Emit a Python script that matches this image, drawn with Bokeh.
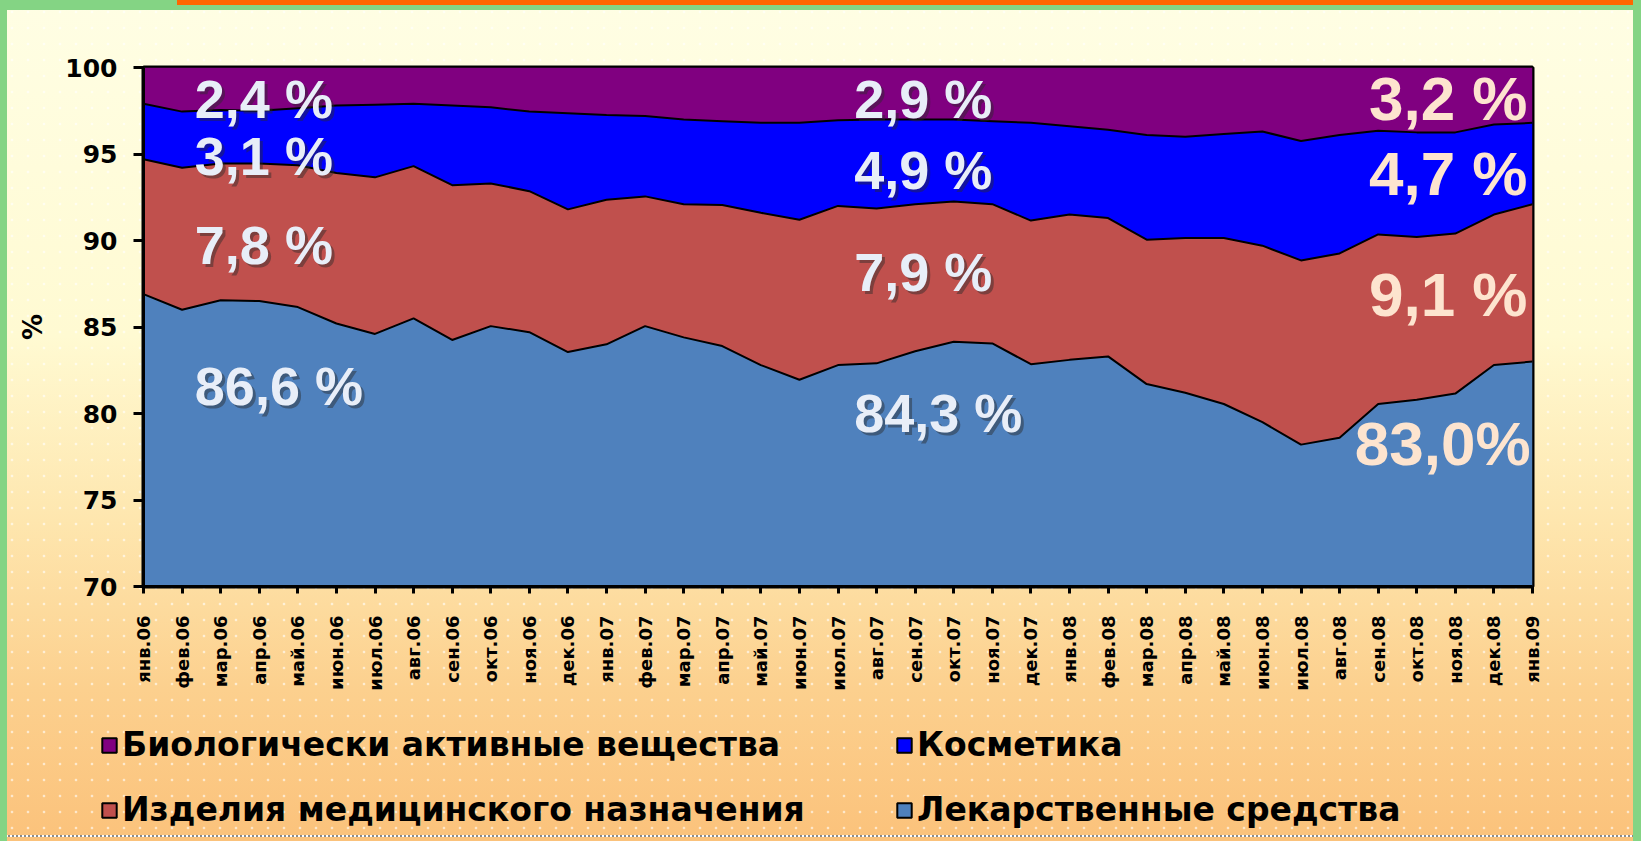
import math
from bokeh.plotting import figure
from bokeh.layouts import column
from bokeh.models import ColumnDataSource, FixedTicker, Range1d, Legend, LegendItem
from bokeh.embed import file_html
from bokeh.resources import INLINE
from bokeh.core.properties import value

# ---------------- data ----------------
months = ["янв.06", "фев.06", "мар.06", "апр.06", "май.06", "июн.06", "июл.06", "авг.06",
          "сен.06", "окт.06", "ноя.06", "дек.06", "янв.07", "фев.07", "мар.07", "апр.07",
          "май.07", "июн.07", "июл.07", "авг.07", "сен.07", "окт.07", "ноя.07", "дек.07",
          "янв.08", "фев.08", "мар.08", "апр.08", "май.08", "июн.08", "июл.08", "авг.08",
          "сен.08", "окт.08", "ноя.08", "дек.08", "янв.09"]

# shares, % (Лекарственные средства)
drugs = [86.9, 86.0, 86.55, 86.5, 86.15, 85.2, 84.6, 85.5, 84.25, 85.05, 84.7, 83.55,
         84.0, 85.05, 84.4, 83.9, 82.8, 81.95, 82.8, 82.9, 83.6, 84.15, 84.05, 82.85,
         83.1, 83.3, 81.7, 81.2, 80.55, 79.5, 78.2, 78.6, 80.55, 80.8, 81.15, 82.8, 83.0]
# Изделия медицинского назначения
med = [7.8, 8.2, 7.9, 7.95, 8.2, 8.7, 9.05, 8.8, 8.95, 8.25, 8.15, 8.25,
       8.35, 7.5, 7.7, 8.15, 8.8, 9.25, 9.2, 8.95, 8.5, 8.1, 8.05, 8.3,
       8.4, 8.0, 8.35, 8.95, 9.6, 10.2, 10.65, 10.65, 9.8, 9.4, 9.25, 8.7, 9.1]
# Косметика
cosm = [3.2, 3.25, 3.1, 3.05, 3.3, 3.9, 4.2, 3.6, 4.6, 4.4, 4.6, 5.55,
        4.9, 4.65, 4.9, 4.85, 5.2, 5.6, 4.95, 5.15, 4.9, 4.75, 4.8, 5.65,
        5.1, 5.1, 6.05, 5.85, 6.0, 6.6, 6.9, 6.85, 6.0, 6.05, 5.85, 5.2, 4.7]
# Биологически активные вещества
bio = [2.1, 2.55, 2.45, 2.5, 2.35, 2.2, 2.15, 2.1, 2.2, 2.3, 2.55, 2.65,
       2.75, 2.8, 3.0, 3.1, 3.2, 3.2, 3.05, 3.0, 3.0, 3.0, 3.1, 3.2,
       3.4, 3.6, 3.9, 4.0, 3.85, 3.7, 4.25, 3.9, 3.65, 3.75, 3.75, 3.3, 3.2]

series_names = ["Лекарственные средства", "Изделия медицинского назначения",
                "Косметика", "Биологически активные вещества"]
series_colors = ["#4f81bd", "#c0504d", "#0000ff", "#800080"]

# value annotations shown on the chart
left_labels = ["2,4 %", "3,1 %", "7,8 %", "86,6 %"]
mid_labels = ["2,9 %", "4,9 %", "7,9 %", "84,3 %"]
right_labels = ["3,2 %", "4,7 %", "9,1 %", "83,0%"]

# ---------------- chart figure ----------------
x = list(range(len(months)))
src = ColumnDataSource(dict(x=x, drugs=drugs, med=med, cosm=cosm, bio=bio))
keys = ["drugs", "med", "cosm", "bio"]

p = figure(width=1641, height=700, x_range=Range1d(0, len(months) - 1), y_range=Range1d(70, 100),
           output_backend="svg", toolbar_location=None,
           min_border_left=143, min_border_right=109, min_border_top=67, min_border_bottom=114)
p.border_fill_color = None
p.background_fill_color = None
p.outline_line_color = "black"
p.outline_line_width = 4
p.grid.visible = False

p.varea_stack(stackers=keys, x="x", color=series_colors, source=src)
p.vline_stack(stackers=keys[:3], x="x", source=src, color="black", line_width=2)

# axes
p.xaxis.ticker = FixedTicker(ticks=x)
p.xaxis.major_label_overrides = {i: m for i, m in enumerate(months)}
p.xaxis.major_label_orientation = math.pi / 2
p.xaxis.major_label_text_font = "DejaVu Sans"
p.xaxis.major_label_text_font_style = "bold"
p.xaxis.major_label_text_font_size = "18px"
p.xaxis.major_label_text_color = "black"
p.xaxis.major_label_standoff = 22
p.xaxis.minor_tick_line_color = None
p.xaxis.major_tick_out = 7
p.xaxis.major_tick_in = 0
p.xaxis.major_tick_line_width = 3
p.xaxis.axis_line_width = 3

p.yaxis.ticker = FixedTicker(ticks=[70, 75, 80, 85, 90, 95, 100])
p.yaxis.major_label_text_font = "DejaVu Sans"
p.yaxis.major_label_text_font_style = "bold"
p.yaxis.major_label_text_font_size = "25px"
p.yaxis.major_label_text_color = "black"
p.yaxis.major_label_standoff = 16
p.yaxis.minor_tick_line_color = None
p.yaxis.major_tick_out = 10
p.yaxis.major_tick_in = 0
p.yaxis.major_tick_line_width = 3
p.yaxis.axis_line_width = 3
p.yaxis.axis_label = "%"
p.yaxis.axis_label_text_font = "DejaVu Sans"
p.yaxis.axis_label_text_font_style = "bold"
p.yaxis.axis_label_text_font_size = "26px"
p.yaxis.axis_label_text_color = "black"
p.yaxis.axis_label_standoff = 14

# value labels
lsrc = ColumnDataSource(dict(
    text=left_labels + mid_labels,
    x=[1.33] * 4 + [18.42] * 4,
    y=[98.2, 94.9, 89.75, 81.6, 98.2, 94.1, 88.2, 80.05]))
for dx, col, alpha in [(3, "#2a2a2a", 0.45), (0, "#e8eef8", 1.0)]:
    p.text(x="x", y="y", text="text", source=lsrc, x_offset=dx, y_offset=dx,
           text_font=value("Liberation Sans"), text_font_style="bold", text_font_size="54px",
           text_color=col, text_alpha=alpha, text_baseline="alphabetic", text_align="left")

rsrc = ColumnDataSource(dict(text=right_labels, x=[35.87, 35.87, 35.87, 35.95],
                             y=[98.2, 93.85, 86.9, 78.25]))
p.text(x="x", y="y", text="text", source=rsrc,
       text_font=value("Liberation Sans"), text_font_style="bold", text_font_size="62px",
       text_color="#fde4cf", text_baseline="alphabetic", text_align="right")

# ---------------- legend figure ----------------
lg_fig = figure(width=1641, height=141, x_range=Range1d(0, 1), y_range=Range1d(0, 1),
                output_backend="svg", toolbar_location=None, x_axis_type=None, y_axis_type=None,
                min_border=0, min_border_left=0, min_border_right=0,
                min_border_top=0, min_border_bottom=0)
lg_fig.frame_align = False
p.frame_align = False
lg_fig.border_fill_color = None
lg_fig.background_fill_color = None
lg_fig.outline_line_color = None
lg_fig.grid.visible = False

swatches = {}
for name, col in zip(series_names, series_colors):
    # off-range glyphs, used only as legend keys
    swatches[name] = lg_fig.quad(left=[-10], right=[-9], top=[-9], bottom=[-10], fill_color=col,
                                 line_color="black", line_width=2)


def make_legend(names, loc):
    lg = Legend(items=[LegendItem(label=n, renderers=[swatches[n]]) for n in names],
                location=loc, orientation="vertical")
    lg.label_text_font = "DejaVu Sans"
    lg.label_text_font_style = "bold"
    lg.label_text_font_size = "33px"
    lg.label_text_color = "black"
    lg.glyph_width = 18
    lg.glyph_height = 18
    lg.label_height = 36
    lg.label_standoff = 4
    lg.spacing = 26
    lg.padding = 0
    lg.margin = 0
    lg.border_line_color = None
    lg.background_fill_alpha = 0
    return lg


lg_fig.add_layout(make_legend(["Биологически активные вещества",
                               "Изделия медицинского назначения"], (100, 12)), "center")
lg_fig.add_layout(make_legend(["Косметика", "Лекарственные средства"], (895, 12)), "center")

green = "#84d484"
layout = column(p, lg_fig, spacing=0)
layout.styles = {
    "background":
        "linear-gradient(#ff6600,#ff6600) no-repeat 177px 0 / 1456px 5px, "
        f"linear-gradient({green},{green}) no-repeat 0 0 / 100% 10px, "
        f"linear-gradient({green},{green}) no-repeat 0 0 / 7px 100%, "
        f"linear-gradient({green},{green}) no-repeat 100% 0 / 8px 100%, "
        "repeating-linear-gradient(to right, #8a8a8a 0 2px, #ffffff 2px 4px) no-repeat 0 835px / 100% 2px, "
        "radial-gradient(circle, rgba(255,255,255,0.6) 1px, transparent 1.7px) 4px 4px / 16px 16px, "
        "linear-gradient(to bottom, #fffee4 0%, #fffad2 40%, #fee6ae 62%, #fcd08e 82%, #fbc27b 100%)"
}

open("out.html", "w").write(file_html(layout, INLINE))
